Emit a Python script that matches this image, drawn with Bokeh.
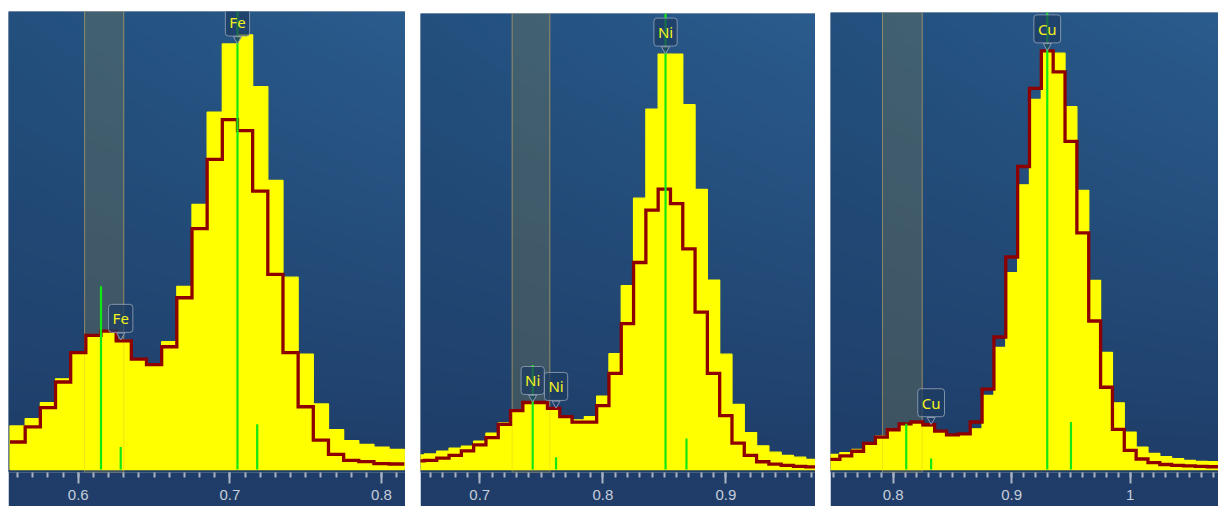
import numpy as np
from bokeh.plotting import figure
from bokeh.layouts import row
from bokeh.models import Range1d, Label, BoxAnnotation, SingleIntervalTicker, NumeralTickFormatter
from bokeh.embed import file_html
from bokeh.resources import INLINE

BIN = 0.01

# ---------------- Fe ----------------
fe_centers = [0.56, 0.57, 0.58, 0.59, 0.60, 0.61, 0.62, 0.63, 0.64, 0.65, 0.66, 0.67, 0.68,
              0.69, 0.70, 0.71, 0.72, 0.73, 0.74, 0.75, 0.76, 0.77, 0.78, 0.79, 0.80, 0.81]
fe_counts = [9.5, 11.1, 14.6, 19.8, 25.2, 29.3, 30.2, 28.2, 24.0, 22.5, 27.9, 40.0, 57.9,
             78.0, 92.9, 94.9, 83.6, 63.1, 42.0, 25.2, 14.3, 8.7, 6.3, 5.5, 4.9, 4.4]
fe_fit = [6.0, 9.3, 13.5, 19.1, 25.5, 29.3, 30.2, 28.1, 24.1, 22.9, 26.8, 37.5, 52.6,
          67.7, 76.4, 74.0, 60.8, 42.6, 25.5, 13.7, 6.4, 3.3, 2.0, 1.7, 1.3, 1.2]
fe_lines = [0.615, 0.628, 0.705, 0.718]
fe_line_heights = [40.0, 4.9, 100.0, 9.9]
fe_label_text = ["Fe", "Fe"]
fe_label_x = [0.705, 0.628]
fe_label_y = [92.9, 28.2]
fe_band = [0.6042, 0.6300]
fe_xrange = [0.554, 0.8158]

# ---------------- Ni ----------------
ni_centers = [0.65, 0.66, 0.67, 0.68, 0.69, 0.70, 0.71, 0.72, 0.73, 0.74, 0.75, 0.76, 0.77,
              0.78, 0.79, 0.80, 0.81, 0.82, 0.83, 0.84, 0.85, 0.86, 0.87, 0.88, 0.89, 0.90,
              0.91, 0.92, 0.93, 0.94, 0.95, 0.96, 0.97]
ni_counts = [3.2, 3.4, 4.0, 4.7, 5.1, 6.2, 8.0, 10.2, 12.7, 14.5, 14.5, 13.4, 11.8,
             10.9, 11.6, 16.1, 25.4, 40.3, 59.5, 79.0, 91.1, 91.1, 80.0, 61.4, 41.5, 25.3,
             14.3, 8.1, 5.2, 3.8, 3.1, 2.7, 2.2]
ni_fit = [1.9, 2.0, 2.5, 3.1, 4.1, 5.4, 7.0, 9.9, 12.9, 14.7, 14.7, 13.4, 11.6,
          10.4, 10.4, 14.0, 21.1, 32.0, 45.4, 56.9, 61.5, 58.3, 48.4, 34.5, 21.1, 11.8,
          5.8, 3.1, 1.7, 1.2, 0.9, 0.7, 0.6]
ni_lines = [0.743, 0.762, 0.851, 0.868]
ni_line_heights = [22.9, 2.7, 100.0, 6.8]
ni_label_text = ["Ni", "Ni", "Ni"]
ni_label_x = [0.851, 0.743, 0.762]
ni_label_y = [91.1, 14.7, 13.4]
ni_band = [0.7263, 0.7569]
ni_xrange = [0.6518, 0.9729]

# ---------------- Cu ----------------
cu_centers = [0.75, 0.76, 0.77, 0.78, 0.79, 0.80, 0.81, 0.82, 0.83, 0.84, 0.85, 0.86, 0.87,
              0.88, 0.89, 0.90, 0.91, 0.92, 0.93, 0.94, 0.95, 0.96, 0.97, 0.98, 0.99, 1.00,
              1.01, 1.02, 1.03, 1.04, 1.05, 1.06, 1.07]
cu_counts = [3.3, 3.7, 4.4, 5.7, 7.3, 8.9, 10.0, 10.2, 9.3, 8.2, 7.5, 7.5, 8.9,
             16.2, 26.7, 43.1, 62.3, 81.0, 91.6, 91.1, 79.4, 61.1, 41.4, 25.6, 14.6, 8.2,
             4.9, 3.5, 2.8, 2.4, 2.0, 1.8, 1.7]
cu_fit = [2.2, 3.0, 4.0, 5.7, 7.1, 8.7, 10.0, 10.4, 9.8, 8.4, 7.6, 7.8, 10.4,
          17.6, 29.0, 46.5, 66.3, 83.4, 91.6, 87.0, 71.8, 51.8, 32.5, 18.0, 8.8, 4.2,
          2.3, 1.5, 1.1, 0.9, 0.8, 0.7, 0.6]
cu_lines = [0.811, 0.832, 0.930, 0.950]
cu_line_heights = [10.0, 2.4, 100.0, 10.4]
cu_label_text = ["Cu", "Cu"]
cu_label_x = [0.930, 0.832]
cu_label_y = [91.6, 9.8]
cu_band = [0.7910, 0.8245]
cu_xrange = [0.7471, 1.0745]

Y_END = 100.0
PAGE_H = 506
AXIS_BAND = "#1f3d68"


def gradient(nrows=200, ncols=80):
    v = np.linspace(0.0, 1.0, nrows)[:, None]          # 0 bottom -> 1 top
    u = np.linspace(0.0, 1.0, ncols)[None, :]          # 0 left -> 1 right
    bottom = np.array([31, 61, 104], float)
    topl = np.array([35, 80, 126], float)
    topr = np.array([42, 92, 141], float)
    vv = v ** 0.9
    rgb = (bottom[None, None, :]
           + vv[..., None] * (topl - bottom)[None, None, :]
           + (u * vv)[..., None] * (topr - topl)[None, None, :])
    rgb = np.clip(rgb, 0, 255).astype(np.uint32)
    img = (255 << 24) | (rgb[..., 2] << 16) | (rgb[..., 1] << 8) | rgb[..., 0]
    return img.astype(np.uint32)


def make_panel(centers, counts, fit, lines, heights, ltext, lx, ly, band, xr, width,
               top_px, base_px, left_gap):
    # top_px: page y of plot top; base_px: page y of histogram baseline
    gap_below = 3
    plot_px = base_px - top_px
    y_start = -gap_below * Y_END / plot_px
    fig_h = PAGE_H - top_px
    band_h = PAGE_H - (base_px + gap_below)
    p = figure(width=width, height=fig_h,
               x_range=Range1d(xr[0], xr[1]), y_range=Range1d(y_start, Y_END),
               output_backend="svg", toolbar_location=None, y_axis_location=None,
               min_border_left=0, min_border_right=0, min_border_top=0,
               min_border_bottom=band_h,
               border_fill_color=AXIS_BAND, background_fill_color=AXIS_BAND,
               outline_line_color=None)
    p.margin = (top_px, 0, 0, left_gap)
    p.grid.visible = False

    # background gradient
    bg = p.image_rgba(image=[gradient()], x=xr[0], y=y_start,
                      dw=xr[1] - xr[0], dh=Y_END - y_start)
    bg.level = "image"

    # region-of-interest band
    p.add_layout(BoxAnnotation(left=band[0], right=band[1], level="underlay",
                               fill_color="#807e50", fill_alpha=0.32,
                               line_color="#a4a276", line_alpha=0.55, line_width=1))

    c = np.array(centers)
    # measured spectrum bars
    p.quad(left=c - BIN / 2, right=c + BIN / 2, bottom=0, top=counts,
           fill_color="#ffff00", line_color="#ffff00", line_width=1.3)

    # band edges faintly visible over bars
    p.segment(x0=band, y0=[0, 0], x1=band, y1=[Y_END, Y_END],
              line_color="#d4a24c", line_alpha=0.3, line_width=1)

    # fitted spectrum as step outline
    edges = np.concatenate([c - BIN / 2, [c[-1] + BIN / 2]])
    xs = np.repeat(edges, 2)[1:-1]
    ys = np.repeat(np.array(fit), 2)
    p.line(xs, ys, line_color="#8e0000", line_width=3.3, line_join="miter")

    # element line markers
    p.segment(x0=lines, y0=[0] * len(lines), x1=lines, y1=heights,
              line_color="#12e812", line_width=2.2)

    # label pointers and boxes
    upp = (Y_END - y_start) / (plot_px + gap_below)
    p.scatter(x=lx, y=[v + 5 * upp for v in ly], marker="inverted_triangle", size=8,
              fill_color="#1d3b63", fill_alpha=0.85, line_color="#8c9bb0", line_width=1)
    for t, x, y in zip(ltext, lx, ly):
        p.add_layout(Label(x=x, y=y, text=t, x_units="data", y_units="data", y_offset=8,
                           text_align="center", text_baseline="bottom",
                           text_color="#f4f41a", text_font="Noto Sans", text_font_size="15px",
                           background_fill_color="#1d3b63", background_fill_alpha=0.72,
                           border_line_color="#8c9bb0", border_line_width=1, border_line_alpha=0.9,
                           padding=4, border_radius=3))

    ax = p.xaxis[0]
    ax.ticker = SingleIntervalTicker(interval=0.1, num_minor_ticks=10)
    ax.formatter = NumeralTickFormatter(format="0.[0]")
    ax.axis_line_color = None
    ax.major_tick_in = 0
    ax.major_tick_out = 11
    ax.minor_tick_in = 0
    ax.minor_tick_out = 5
    ax.major_tick_line_color = "#a9b4c4"
    ax.major_tick_line_width = 2
    ax.minor_tick_line_color = "#a9b4c4"
    ax.minor_tick_line_width = 2
    ax.major_label_text_color = "#c6cedb"
    ax.major_label_text_font = "Liberation Sans"
    ax.major_label_text_font_size = "15px"
    ax.major_label_standoff = 6
    return p


p1 = make_panel(fe_centers, fe_counts, fe_fit, fe_lines, fe_line_heights,
                fe_label_text, fe_label_x, fe_label_y, fe_band, fe_xrange, 397,
                11, 469, 8)
p2 = make_panel(ni_centers, ni_counts, ni_fit, ni_lines, ni_line_heights,
                ni_label_text, ni_label_x, ni_label_y, ni_band, ni_xrange, 395,
                13, 471, 15)
p3 = make_panel(cu_centers, cu_counts, cu_fit, cu_lines, cu_line_heights,
                cu_label_text, cu_label_x, cu_label_y, cu_band, cu_xrange, 388,
                12, 471, 15)

layout = row(p1, p2, p3, spacing=0)
open("out.html", "w").write(file_html(layout, INLINE))
